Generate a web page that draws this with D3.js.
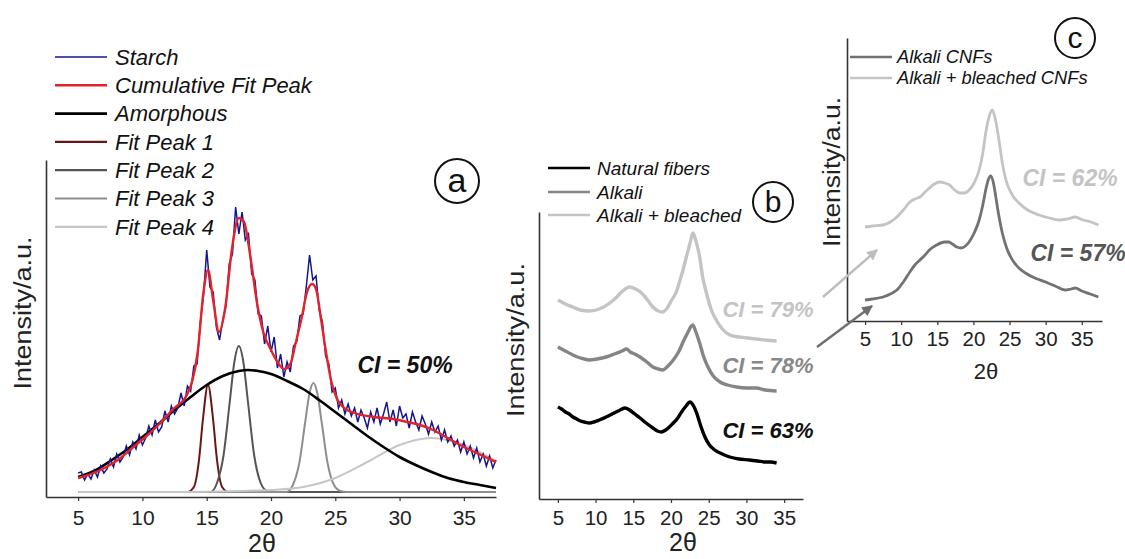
<!DOCTYPE html>
<html><head><meta charset="utf-8">
<script src="https://cdn.jsdelivr.net/npm/d3@7"></script>
<style>
html,body{margin:0;padding:0;background:#fff;}
svg{display:block;}
text{font-family:"Liberation Sans",Arial,sans-serif;}
</style></head>
<body>
<svg id="chart" width="1125" height="559"></svg>
<script>
// ---------- DATA ----------
const ticks = [5, 10, 15, 20, 25, 30, 35];
const tickLabels = ["5", "10", "15", "20", "25", "30", "35"];

// Panel a: starch (2θ, intensity a.u.)
const aStarch = [[5,19],[5.25,20],[5.5,12],[5.75,18],[6,13],[6.25,22],[6.5,15],[6.75,26],[7,19],[7.25,23],[7.5,33],[7.75,25],[8,38],[8.25,30],[8.5,35],[8.75,46],[9,37],[9.25,50],[9.5,43],[9.75,57],[10,47],[10.25,54],[10.5,66],[10.75,57],[11,72],[11.25,60],[11.5,65],[11.75,81],[12,70],[12.25,86],[12.5,78],[12.75,84],[13,99],[13.25,86],[13.5,106],[13.75,101],[14,126],[14.25,128],[14.5,170],[14.75,196],[15,242],[15.25,205],[15.5,200],[15.75,165],[16,152],[16.25,172],[16.5,186],[16.75,228],[17,238],[17.25,285],[17.5,258],[17.75,280],[18,252],[18.25,258],[18.5,218],[18.75,212],[19,178],[19.25,176],[19.5,148],[19.75,166],[20,140],[20.25,155],[20.5,124],[20.75,138],[21,115],[21.25,130],[21.5,120],[21.75,146],[22,150],[22.25,176],[22.5,178],[22.75,206],[23,237],[23.25,212],[23.5,216],[23.75,182],[24,170],[24.25,136],[24.5,128],[24.75,100],[25,104],[25.25,84],[25.5,92],[25.75,78],[26,88],[26.25,76],[26.5,84],[26.75,70],[27,82],[27.25,74],[27.5,64],[27.75,80],[28,70],[28.25,84],[28.5,68],[28.75,78],[29,90],[29.25,70],[29.5,82],[29.75,66],[30,86],[30.25,74],[30.5,78],[30.75,64],[31,80],[31.25,70],[31.5,62],[31.75,76],[32,68],[32.25,58],[32.5,70],[32.75,60],[33,66],[33.25,52],[33.5,62],[33.75,50],[34,56],[34.25,46],[34.5,52],[34.75,40],[35,50],[35.25,38],[35.5,46],[35.75,34],[36,44],[36.25,30],[36.5,38],[36.75,26],[37,36],[37.25,24],[37.5,32]];
const aCumulative = [[5,14],[6,18],[7.2,25],[8.3,34],[9.3,45],[10.4,57],[11.4,69],[12.4,83],[13.45,97],[13.9,112],[14.3,140],[14.75,200],[15.1,222],[15.5,192],[15.95,160],[16.45,185],[16.95,242],[17.5,274],[17.9,270],[18.4,235],[18.9,190],[19.4,160],[20,142],[20.5,130],[21,123],[21.5,128],[21.9,148],[22.4,175],[22.8,200],[23.2,208],[23.5,203],[23.9,172],[24.3,138],[24.7,110],[25.1,94],[25.6,85],[26.5,79],[28,75],[29.5,73],[30.6,70],[31.6,67],[32.6,62],[33.6,55],[34.7,47],[36,39],[37.5,30]];
const aAmorphous = [[5,15],[6.25,21],[7.5,31],[8.75,42],[10,55],[11.25,68],[12.5,82],[13.75,95],[15,107],[16.25,116],[17.5,121],[18.2,122],[19,121],[20,118],[21.25,111],[22.5,103],[23.75,92],[25,80],[26.25,68],[27.5,56],[28.75,45],[30,35],[31.25,27],[32.5,20],[33.75,14],[35,10],[36.25,7],[37.5,4]];
const aPeak1 = [[5,0],[13.5,0],[14,5],[14.4,32],[14.7,72],[15.1,107],[15.5,72],[15.8,32],[16.2,5],[16.7,0],[37.5,0]];
const aPeak2 = [[5,0],[15.3,0],[15.8,9],[16.3,36],[16.8,91],[17.15,130],[17.5,146],[17.85,130],[18.2,91],[18.7,36],[19.2,9],[19.7,1],[20.2,0],[37.5,0]];
const aPeak3 = [[5,0],[21.2,0],[21.7,7],[22.2,29],[22.65,69],[23,99],[23.3,109],[23.6,99],[23.95,69],[24.4,29],[24.9,7],[25.4,1],[25.9,0],[37.5,0]];
const aPeak4 = [[5,0],[12.5,0],[15,0.3],[17.5,1],[20,2],[22.5,5],[25,14],[27.5,30],[30,47],[32.5,54],[35,47],[37.5,31]];
const aLegendNames = ["Starch", "Cumulative Fit Peak", "Amorphous", "Fit Peak 1", "Fit Peak 2", "Fit Peak 3", "Fit Peak 4"];

// Panel b
const bNatural = [[5,92],[5.5,90],[6,87],[6.5,85],[7,82],[7.5,80],[8,78],[8.5,77],[9.2,76],[9.8,77],[10.5,79],[11.4,82],[12.2,85],[13,88],[13.9,91],[14.5,89],[15.2,85],[15.9,81],[16.7,76],[17.6,71],[18.2,68],[18.7,67],[19.3,69],[20.3,76],[20.9,81],[21.4,87],[22,93],[22.5,97],[23,93],[23.4,86],[23.9,74],[24.5,62],[25.1,54],[25.8,49],[26.8,45],[27.8,42],[29,40],[30.4,39],[31.5,38],[32.5,37],[33.2,37],[34,36]];
const bAlkali = [[5,152],[5.5,150],[6,148],[7,144],[8,141],[9.2,139],[10.2,140],[11.4,142],[12.5,145],[13.5,148],[14.1,150],[14.6,147],[15.2,145],[15.9,142],[16.8,137],[17.6,132],[18.3,130],[18.9,129],[19.6,133],[20.3,139],[21,147],[21.6,157],[22.2,166],[22.7,173],[22.9,174],[23.3,167],[23.8,156],[24.3,143],[24.9,132],[25.6,123],[26.5,117],[27.5,114],[28.7,112],[30,111],[31.3,111],[32.5,109],[34,108]];
const bBleached = [[5,199],[5.5,197],[6,195],[7,192],[8,189],[9.2,188],[10.5,190],[11.9,196],[12.8,202],[13.6,208],[14.5,212],[15.3,210],[16.1,206],[16.9,199],[17.6,192],[18.3,188],[18.9,187],[19.5,191],[20.1,199],[20.7,207],[21.2,219],[21.7,232],[22.1,244],[22.5,255],[22.9,266],[23.3,258],[23.8,242],[24.2,222],[24.7,206],[25.3,190],[26,179],[26.8,170],[27.8,164],[29,162],[30.2,161],[31.3,160],[32.5,159],[34,158]];
const bLegendNames = ["Natural fibers", "Alkali", "Alkali + bleached"];
const bCI = ["CI = 79%", "CI = 78%", "CI = 63%"];

// Panel c
const cBleached = [[5,94],[6,95],[7.5,96],[8.5,99],[9.4,104],[10.3,111],[11.2,119],[11.9,122],[12.6,124],[13.3,129],[13.9,133],[14.6,137],[15.3,139],[16,138],[16.7,136],[17.4,131],[18.1,128],[18.8,128],[19.4,131],[20.1,138],[20.8,151],[21.3,168],[21.7,188],[22.2,205],[22.6,211],[23,203],[23.6,178],[24,158],[24.5,141],[25.3,127],[26.3,118],[27.5,111],[29.1,106],[30.5,103],[31.8,101],[33,102],[34.1,104],[35.2,101],[36.3,99],[37.3,96]];
const cAlkali = [[5,21],[6,22],[7.5,24],[8.5,27],[9.4,31],[10.3,39],[11.2,49],[11.9,56],[12.6,61],[13.3,66],[13.9,71],[14.9,76],[16,79],[16.6,79],[17.1,77],[17.7,74],[18.3,73],[18.9,75],[19.4,79],[20.1,88],[20.8,101],[21.3,116],[21.7,131],[22.1,142],[22.4,145],[22.8,137],[23.1,124],[23.5,106],[24,88],[24.6,73],[25.4,61],[26.3,53],[27.2,48],[28.5,43],[30,39],[31.3,35],[32.7,31],[33.5,32],[34.1,33],[35,30],[36.2,27],[37.3,24]];
const cLegendNames = ["Alkali CNFs", "Alkali + bleached CNFs"];
const cCI = ["CI = 62%", "CI = 57%"];

// ---------- DRAW ----------
const svg = d3.select("#chart");
const FONT = '"Liberation Sans",Arial,sans-serif';

function axes(g, x, y, fs, pad) {
  const xa = g.append("g").attr("transform", `translate(0,${y.range()[0]})`)
    .call(d3.axisBottom(x).tickValues(ticks).tickFormat((d,i)=>tickLabels[i]).tickSize(4).tickSizeOuter(0).tickPadding(pad));
  xa.select(".domain").attr("stroke", "#333").attr("stroke-width", 1.6);
  xa.selectAll(".tick line").attr("stroke", "#333").attr("stroke-width", 1.2);
  xa.selectAll(".tick text").attr("font-size", fs).attr("font-family", FONT).attr("fill", "#222");
  const ya = g.append("g").attr("transform", `translate(${x.range()[0]},0)`)
    .call(d3.axisLeft(y).tickValues([]).tickSizeOuter(0));
  ya.select(".domain").attr("stroke", "#333").attr("stroke-width", 1.6);
}
function circleLabel(cx, cy, r, letter, fs) {
  svg.append("circle").attr("cx", cx).attr("cy", cy).attr("r", r).attr("fill", "none").attr("stroke", "#111").attr("stroke-width", 2);
  svg.append("text").attr("x", cx).attr("y", cy).attr("dy", "0.33em").attr("text-anchor", "middle")
    .attr("font-size", fs).attr("fill", "#111").text(letter);
}
function yLabel(cx, cy, fs, len) {
  svg.append("text").attr("transform", `translate(${cx},${cy}) rotate(-90)`).attr("dy", "0.35em")
    .attr("text-anchor", "middle").attr("font-size", fs).attr("fill", "#222")
    .attr("textLength", len).attr("lengthAdjust", "spacingAndGlyphs").text("Intensity/a.u.");
}

// ===== Panel a =====
const xa = d3.scaleLinear().domain([2.5, 37.5]).range([46, 496]);
const ya = d3.scaleLinear().domain([-5, 332]).range([497, 160]);
const ga = svg.append("g");
axes(ga, xa, ya, 21, 9);
const lineA = d3.line().x(d => xa(d[0])).y(d => ya(d[1])).curve(d3.curveMonotoneX);
const aSeries = [
  {data: aPeak1, color: "#6b1414", w: 2},
  {data: aPeak2, color: "#555555", w: 2},
  {data: aPeak3, color: "#8e8e8e", w: 2},
  {data: aPeak4, color: "#c6c6c6", w: 2},
  {data: aAmorphous, color: "#000000", w: 2.6},
];
aSeries.forEach(s => ga.append("path").attr("d", lineA(s.data)).attr("fill", "none").attr("stroke", s.color).attr("stroke-width", s.w));
ga.append("path").attr("d", d3.line().x(d => xa(d[0])).y(d => ya(d[1]))(aStarch))
  .attr("fill", "none").attr("stroke", "#16168c").attr("stroke-width", 1.5);
ga.append("path").attr("d", lineA(aCumulative)).attr("fill", "none").attr("stroke", "#e3232b").attr("stroke-width", 2.4);

const aLegColors = ["#16168c", "#e3232b", "#000000", "#6b1414", "#555555", "#8e8e8e", "#c6c6c6"];
const aLegW = [1.4, 2.6, 2.8, 2.2, 2.2, 2.2, 2.2];
aLegendNames.forEach((n, i) => {
  const cy = 57 + i * 28.3;
  svg.append("line").attr("x1", 55).attr("x2", 107).attr("y1", cy).attr("y2", cy).attr("stroke", aLegColors[i]).attr("stroke-width", aLegW[i]);
  svg.append("text").attr("x", 115).attr("y", cy).attr("dy", "0.35em").attr("font-size", 22).attr("font-style", "italic").attr("fill", "#111").text(n);
});
svg.append("text").attr("x", 405).attr("y", 365).attr("dy", "0.35em").attr("text-anchor", "middle").attr("font-size", 23)
  .attr("font-weight", "bold").attr("font-style", "italic").attr("fill", "#111").text("CI = 50%");
circleLabel(457, 181, 22, "a", 34);
yLabel(23, 313, 23, 153);
svg.append("text").attr("x", 262).attr("y", 543).attr("dy", "0.35em").attr("text-anchor", "middle").attr("font-size", 25).attr("fill", "#222").text("2θ");

// ===== Panel b =====
const xb = d3.scaleLinear().domain([2.5, 37.5]).range([539, 803]);
const yb = d3.scaleLinear().domain([0, 287]).range([499, 212]);
const gb = svg.append("g");
axes(gb, xb, yb, 20.5, 7);
const lineB = d3.line().x(d => xb(d[0])).y(d => yb(d[1])).curve(d3.curveMonotoneX);
const bSeries = [{data: bBleached, color: "#c4c4c4"}, {data: bAlkali, color: "#858585"}, {data: bNatural, color: "#000000"}];
bSeries.forEach(s => gb.append("path").attr("d", lineB(s.data)).attr("fill", "none").attr("stroke", s.color).attr("stroke-width", 3.4).attr("stroke-linejoin", "round"));
const bLegColors = ["#000000", "#858585", "#c4c4c4"];
const bLegY = [168, 192, 215];
bLegendNames.forEach((n, i) => {
  svg.append("line").attr("x1", 548).attr("x2", 590).attr("y1", bLegY[i]).attr("y2", bLegY[i]).attr("stroke", bLegColors[i]).attr("stroke-width", 2.6);
  svg.append("text").attr("x", 597).attr("y", bLegY[i]).attr("dy", "0.35em").attr("font-size", 19).attr("font-style", "italic").attr("fill", "#111").text(n);
});
const bCIcol = ["#c4c4c4", "#888888", "#111111"];
const bCIy = [309, 365, 430];
bCI.forEach((t, i) => svg.append("text").attr("x", 768).attr("y", bCIy[i]).attr("dy", "0.35em").attr("text-anchor", "middle")
  .attr("font-size", 22).attr("font-weight", "bold").attr("font-style", "italic").attr("fill", bCIcol[i]).text(t));
circleLabel(773, 202, 20, "b", 30);
yLabel(516, 340, 23, 154);
svg.append("text").attr("x", 683).attr("y", 542).attr("dy", "0.35em").attr("text-anchor", "middle").attr("font-size", 25).attr("fill", "#222").text("2θ");

// ===== Panel c =====
const xc = d3.scaleLinear().domain([2.5, 37.8]).range([847, 1102]);
const yc = d3.scaleLinear().domain([0, 283]).range([321, 38]);
const gc = svg.append("g");
axes(gc, xc, yc, 20.5, 6);
const lineC = d3.line().x(d => xc(d[0])).y(d => yc(d[1])).curve(d3.curveMonotoneX);
[{data: cBleached, color: "#c4c4c4"}, {data: cAlkali, color: "#727272"}].forEach(s =>
  gc.append("path").attr("d", lineC(s.data)).attr("fill", "none").attr("stroke", s.color).attr("stroke-width", 2.8).attr("stroke-linejoin", "round"));
const cLegColors = ["#727272", "#c4c4c4"];
const cLegY = [57, 78];
cLegendNames.forEach((n, i) => {
  svg.append("line").attr("x1", 850).attr("x2", 892).attr("y1", cLegY[i]).attr("y2", cLegY[i]).attr("stroke", cLegColors[i]).attr("stroke-width", 2.6);
  svg.append("text").attr("x", 897).attr("y", cLegY[i]).attr("dy", "0.35em").attr("font-size", 18.3).attr("font-style", "italic").attr("fill", "#111").text(n);
});
const cCIcol = ["#c4c4c4", "#555555"];
const cCIy = [178, 253];
const cCIx = [1070, 1078];
cCI.forEach((t, i) => svg.append("text").attr("x", cCIx[i]).attr("y", cCIy[i]).attr("dy", "0.35em").attr("text-anchor", "middle")
  .attr("font-size", 23).attr("font-weight", "bold").attr("font-style", "italic").attr("fill", cCIcol[i]).text(t));
circleLabel(1075, 38, 20, "c", 30);
yLabel(832, 172, 23, 150);
svg.append("text").attr("x", 986).attr("y", 371).attr("dy", "0.35em").attr("text-anchor", "middle").attr("font-size", 22).attr("fill", "#222").text("2θ");

// arrows linking panel b to panel c
const defs = svg.append("defs");
[["arLight", "#bdbdbd"], ["arDark", "#6e6e6e"]].forEach(([id, col]) => {
  defs.append("marker").attr("id", id).attr("viewBox", "0 0 10 10").attr("refX", 9).attr("refY", 5)
    .attr("markerWidth", 4.5).attr("markerHeight", 4.5).attr("orient", "auto")
    .append("path").attr("d", "M0,0 L10,5 L0,10 z").attr("fill", col);
});
svg.append("line").attr("x1", 823).attr("y1", 297).attr("x2", 877).attr("y2", 250).attr("stroke", "#bdbdbd").attr("stroke-width", 2.4).attr("marker-end", "url(#arLight)");
svg.append("line").attr("x1", 817).attr("y1", 347).attr("x2", 872).attr("y2", 306).attr("stroke", "#6e6e6e").attr("stroke-width", 2.4).attr("marker-end", "url(#arDark)");
</script>
</body></html>
